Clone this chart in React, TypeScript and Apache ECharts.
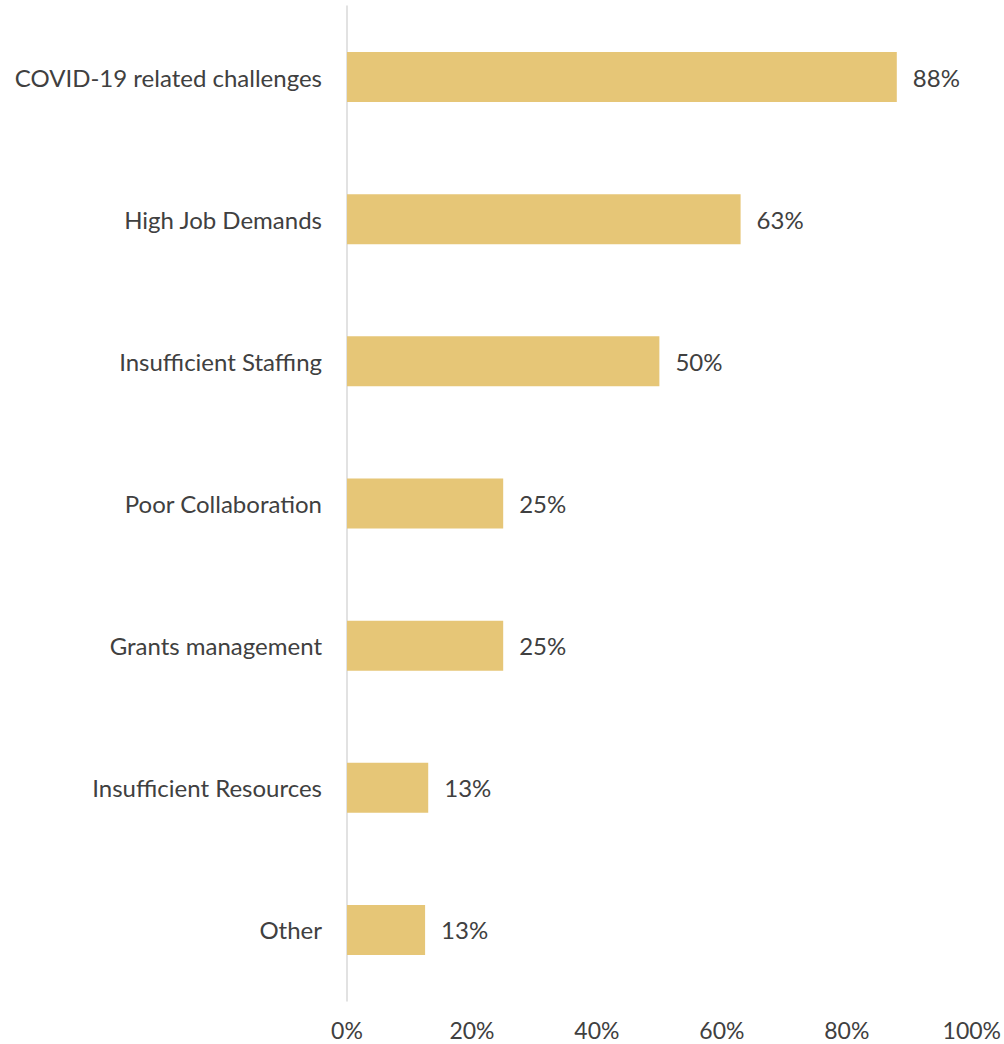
import React, { useEffect, useRef } from "react";
import * as echarts from "echarts";

const categories = [
  "COVID-19 related challenges",
  "High Job Demands",
  "Insufficient Staffing",
  "Poor Collaboration",
  "Grants management",
  "Insufficient Resources",
  "Other",
];
const values = [0.88, 0.63, 0.5, 0.25, 0.25, 0.13, 0.125];
const xTicks = [0, 0.2, 0.4, 0.6, 0.8, 1.0];

const FONT = "Lato";
const TEXT = "#404040";

export default function App() {
  const ref = useRef<HTMLDivElement>(null);
  useEffect(() => {
    if (!ref.current) return;
    const chart = echarts.init(ref.current, null, { renderer: "svg" });
    chart.setOption({
      animation: false,
      grid: { left: 347, right: 32, top: 6, bottom: 43, containLabel: false },
      xAxis: {
        type: "value",
        min: xTicks[0],
        max: xTicks[xTicks.length - 1],
        interval: 0.2,
        axisLine: { show: false },
        axisTick: { show: false },
        splitLine: { show: false },
        axisLabel: {
          color: TEXT,
          fontFamily: FONT,
          fontSize: 23,
          margin: 17,
          formatter: (v: number) => Math.round(v * 100) + "%",
        },
      },
      yAxis: {
        type: "category",
        data: categories,
        inverse: true,
        axisLine: { show: true, lineStyle: { color: "#d9d9d9", width: 1.5 } },
        axisTick: { show: false },
        axisLabel: {
          color: TEXT,
          fontFamily: FONT,
          fontSize: 24,
          margin: 25,
        },
      },
      series: [
        {
          type: "bar",
          data: values,
          barWidth: 50,
          itemStyle: { color: "#E6C677" },
          label: {
            show: true,
            position: "right",
            distance: 16,
            color: TEXT,
            fontFamily: FONT,
            fontSize: 24,
            formatter: (p: any) => Math.round(p.value * 100) + "%",
          },
        },
      ],
    });
    return () => chart.dispose();
  }, []);
  return (
    <div
      ref={ref}
      style={{ position: "absolute", left: 0, top: 0, width: 1004, height: 1044, background: "#fff" }}
    />
  );
}
